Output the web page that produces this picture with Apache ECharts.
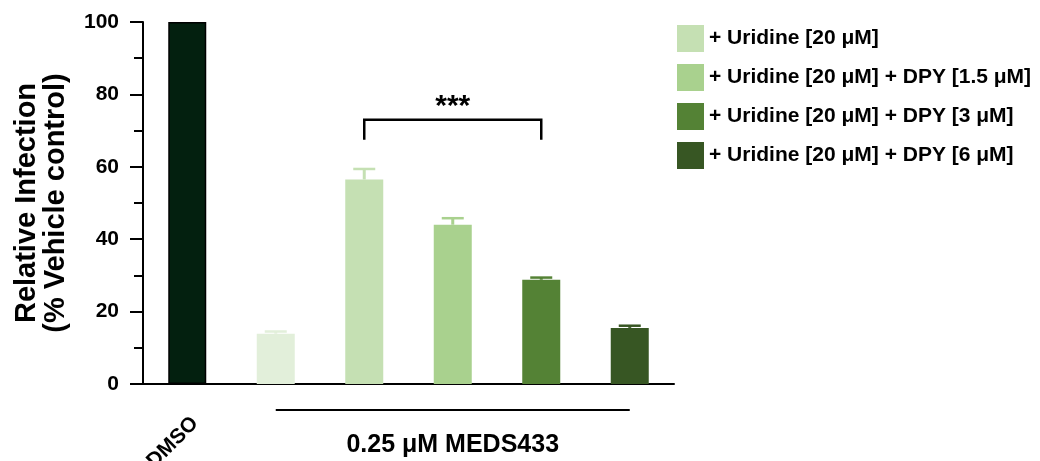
<!DOCTYPE html>
<html>
<head>
<meta charset="utf-8">
<script src="https://cdn.jsdelivr.net/npm/echarts@6/dist/echarts.min.js"></script>
<style>html,body{margin:0;padding:0;background:#fff;overflow:hidden}#c{width:1040px;height:461px}</style>
</head>
<body>
<div id="c"></div>
<script>
// ---- data ----
const categories = ['DMSO', 'MEDS433', '+ Uridine [20 μM]', '+ Uridine [20 μM] + DPY [1.5 μM]', '+ Uridine [20 μM] + DPY [3 μM]', '+ Uridine [20 μM] + DPY [6 μM]'];
const means = [100, 13.9, 56.5, 44.0, 28.8, 15.5];
const errUpper = [null, 14.5, 59.4, 45.8, 29.4, 16.1];
const barColors = ['#03200f', '#e2efda', '#c5e0b3', '#a9d18e', '#548235', '#375623'];
const legendNames = categories.slice(2);
const yMin = 0, yMax = 100, yInterval = 20;
const shownXLabels = ['DMSO'];
// significance bracket (category indices, y values)
const sig = { from: 2, to: 4, top: 73, leg: 67.5, label: '***', labelY: 76.5 };
// treatment group line below axis
const group = { from: 1, to: 5, y: -7.2, label: '0.25 μM MEDS433', labelY: -17 };

const FONT = "'Liberation Sans', Arial, sans-serif";

// ---- series ----
const series = [];
series.push({
  name: 'base', type: 'bar', barWidth: 38, barGap: '-100%',
  data: means.map((v, i) => i < 2 ? {
    value: v,
    itemStyle: { color: barColors[i], borderColor: i === 0 ? '#000' : barColors[i], borderWidth: i === 0 ? 1.5 : 0 }
  } : '-')
});
legendNames.forEach((name, k) => {
  const idx = k + 2;
  series.push({
    name: name, type: 'bar', barWidth: 38, barGap: '-100%',
    itemStyle: { color: barColors[idx] },
    data: means.map((v, i) => i === idx ? v : '-')
  });
});
// error bars
series.push({
  type: 'custom', name: 'err', clip: false, z: 1,
  data: means.map((m, i) => [i, m, errUpper[i] == null ? m : errUpper[i]]),
  renderItem: (params, api) => {
    const i = api.value(0);
    if (errUpper[i] == null) return null;
    const p0 = api.coord([i, api.value(1)]);
    const p1 = api.coord([i, api.value(2)]);
    const c = barColors[i];
    return { type: 'group', children: [
      { type: 'line', shape: { x1: p0[0], y1: p0[1], x2: p1[0], y2: p1[1] }, style: { stroke: c, lineWidth: 3 } },
      { type: 'line', shape: { x1: p1[0] - 11, y1: p1[1], x2: p1[0] + 11, y2: p1[1] }, style: { stroke: c, lineWidth: 2.5 } }
    ]};
  }
});
// annotations
series.push({
  type: 'custom', name: 'annot', clip: false, silent: true,
  data: [[0]],
  renderItem: (params, api) => {
    const a = api.coord([sig.from, sig.leg]);
    const b = api.coord([sig.from, sig.top]);
    const c = api.coord([sig.to, sig.top]);
    const d = api.coord([sig.to, sig.leg]);
    const t = api.coord([(sig.from + sig.to) / 2, sig.labelY]);
    const g0 = api.coord([group.from, group.y]);
    const g1 = api.coord([group.to, group.y]);
    const gt = api.coord([(group.from + group.to) / 2, group.labelY]);
    return { type: 'group', children: [
      { type: 'polyline', shape: { points: [a, b, c, d] }, style: { stroke: '#000', lineWidth: 2.5, fill: null } },
      { type: 'text', x: t[0], y: t[1], style: { text: sig.label, font: 'bold 30px ' + FONT, fill: '#000', align: 'center', verticalAlign: 'middle' } },
      { type: 'line', shape: { x1: g0[0], y1: g0[1], x2: g1[0], y2: g1[1] }, style: { stroke: '#000', lineWidth: 2 } },
      { type: 'text', x: gt[0], y: gt[1], style: { text: group.label, font: 'bold 25px ' + FONT, fill: '#000', align: 'center', verticalAlign: 'middle' } }
    ]};
  }
});

const chart = echarts.init(document.getElementById('c'), null, { renderer: 'canvas' });
chart.setOption({
  animation: false,
  backgroundColor: '#fff',
  textStyle: { fontFamily: FONT },
  grid: { left: 143, right: 366, top: 22, bottom: 77, containLabel: false, outerBoundsMode: 'none' },
  legend: {
    data: legendNames, orient: 'vertical', left: 677, top: 25,
    itemWidth: 27, itemHeight: 27, itemGap: 12, icon: 'rect', padding: 0,
    textStyle: { fontFamily: FONT, fontWeight: 'bold', fontSize: 21, color: '#000' },
    selectedMode: false
  },
  xAxis: {
    type: 'category', data: categories,
    axisLine: { lineStyle: { color: '#000', width: 2 } },
    axisTick: { alignWithLabel: true, length: 10, lineStyle: { color: '#000', width: 2 } },
    axisLabel: {
      interval: 0, rotate: 45, margin: 44, padding: [0, -11, 0, 0],
      formatter: v => shownXLabels.includes(v) ? v : '',
      fontFamily: FONT, fontWeight: 'bold', fontSize: 21, color: '#000'
    }
  },
  yAxis: {
    type: 'value', min: yMin, max: yMax, interval: yInterval,
    name: 'Relative Infection\n(% Vehicle control)',
    nameLocation: 'middle', nameGap: 73,
    nameTextStyle: { fontFamily: FONT, fontWeight: 'bold', fontSize: 29, lineHeight: 29, color: '#000' },
    axisLine: { show: true, lineStyle: { color: '#000', width: 2 } },
    axisTick: { show: true, length: 13, lineStyle: { color: '#000', width: 2 } },
    minorTick: { show: true, splitNumber: 2, length: 9, lineStyle: { color: '#000', width: 2 } },
    splitLine: { show: false },
    axisLabel: { margin: 24, fontFamily: FONT, fontWeight: 'bold', fontSize: 21, color: '#000' }
  },
  series: series
});
</script>
</body>
</html>
